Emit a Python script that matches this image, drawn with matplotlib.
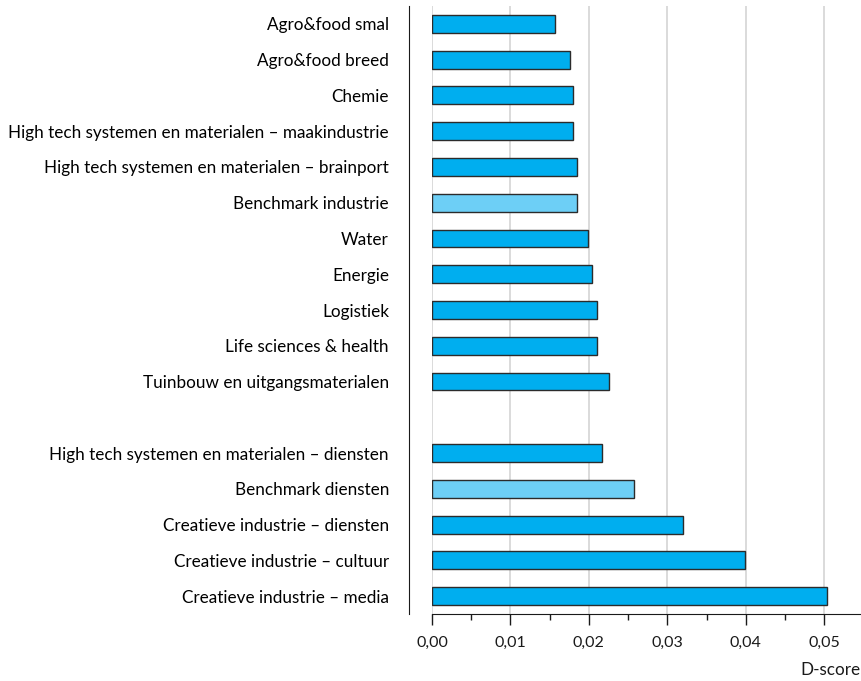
import matplotlib
matplotlib.use("Agg")
import matplotlib.pyplot as plt
from matplotlib.ticker import MultipleLocator, FuncFormatter

plt.rcParams['font.family'] = ['Lato', 'DejaVu Sans']

categories = [
    "Agro&food smal",
    "Agro&food breed",
    "Chemie",
    "High tech systemen en materialen – maakindustrie",
    "High tech systemen en materialen – brainport",
    "Benchmark industrie",
    "Water",
    "Energie",
    "Logistiek",
    "Life sciences & health",
    "Tuinbouw en uitgangsmaterialen",
    "",
    "High tech systemen en materialen – diensten",
    "Benchmark diensten",
    "Creatieve industrie – diensten",
    "Creatieve industrie – cultuur",
    "Creatieve industrie – media",
]
values = [0.0157, 0.0176, 0.0180, 0.0180, 0.0185, 0.0185, 0.0199, 0.0204,
          0.0210, 0.0210, 0.0226, None, 0.0217, 0.0257, 0.0320, 0.0399, 0.0503]
benchmarks = ["Benchmark industrie", "Benchmark diensten"]

x_ticks = [0.00, 0.01, 0.02, 0.03, 0.04, 0.05]
x_label = "D-score"

W, H = 862, 681
fig = plt.figure(figsize=(W / 100, H / 100), dpi=100)
ax = fig.add_axes([432 / W, 1 - 614 / H, (862 - 432) / W, (614 - 6) / H])

main_color = "#00AEEF"
bench_color = "#6DCFF6"

for i, (c, v) in enumerate(zip(categories, values)):
    if v is None:
        continue
    col = bench_color if c in benchmarks else main_color
    ax.barh(i, v, height=0.5, color=col, edgecolor="#2b2b2b", linewidth=1.0, zorder=3)

ax.set_ylim(len(categories) - 0.5, -0.5)
ax.set_xlim(0, 0.0548)
ax.set_yticks(range(len(categories)))
ax.set_yticklabels(categories)
for lbl, c in zip(ax.get_yticklabels(), categories):
    lbl.set_color("#808080" if c in benchmarks else "#1a1a1a")
ax.tick_params(axis='y', length=0, pad=14.5, labelsize=12.3)

ax.set_xticks(x_ticks)
ax.xaxis.set_minor_locator(MultipleLocator(0.005))
ax.xaxis.set_major_formatter(FuncFormatter(lambda v, p: f"{v:.2f}".replace(".", ",")))
ax.tick_params(axis='x', which='major', length=8, width=1.0, color="#1a1a1a",
               labelsize=11.5, labelcolor="#1a1a1a", pad=8)
ax.tick_params(axis='x', which='minor', length=4, width=1.0, color="#1a1a1a")

ax.grid(axis='x', which='major', color="#d4d4d4", linewidth=1.2, zorder=0)
ax.set_axisbelow(True)

for s in ["top", "right"]:
    ax.spines[s].set_visible(False)
ax.spines["left"].set_position(("outward", 16.5))
ax.spines["left"].set_color("#1a1a1a")
ax.spines["bottom"].set_color("#1a1a1a")

fig.text(1 - 1 / W, 1 - 670 / H, x_label, ha="right", va="center", fontsize=12.3, color="#1a1a1a")

fig.savefig("out.png", dpi=100)
